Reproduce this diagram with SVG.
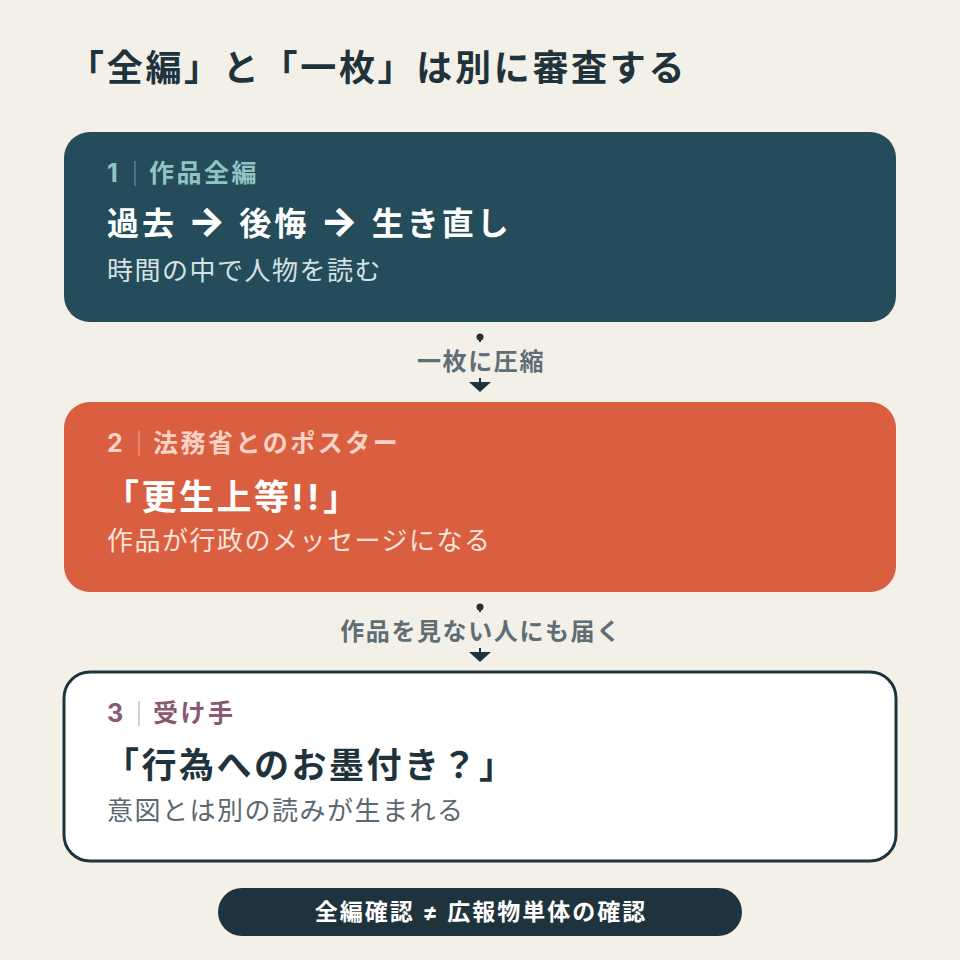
<svg xmlns="http://www.w3.org/2000/svg" width="960" height="960" viewBox="0 0 960 960">
<defs>
<style>
text{font-family:"Inter","Noto Sans CJK JP","Noto Sans",sans-serif}
.title{font-size:36px;font-weight:700;fill:#1f333d;letter-spacing:2.7px}
.lab{font-size:25px;font-weight:700;letter-spacing:2.5px}
.head1{font-size:32px;font-weight:700;letter-spacing:3px}
.arr{font-size:40px;font-weight:800}
.head{font-size:35px;font-weight:700;letter-spacing:2.5px}
.sub{font-size:26px;font-weight:400;letter-spacing:1.5px}
.conn{font-size:24px;font-weight:700;fill:#5f6d75;text-anchor:middle;letter-spacing:1.6px}
.sep{stroke-width:1.2}
</style>
<marker id="dot" viewBox="0 0 8 8" refX="4" refY="4" markerWidth="8" markerHeight="8" markerUnits="userSpaceOnUse"><circle cx="4" cy="4" r="3.5" fill="#1f333d"/></marker>
</defs>
<rect width="960" height="960" fill="#f3f0e8"/>
<text class="title" x="68" y="81">「全編」と「一枚」は別に審査する</text>

<g id="connectors">
<g id="conn1">
<line x1="480" y1="337" x2="480" y2="382" stroke="#1f333d" stroke-width="2" marker-start="url(#dot)"/>
<path d="M469,382 L491,382 L480,392 Z" fill="#1f333d"/>
<rect x="390" y="342" width="180" height="36" fill="#f3f0e8"/>
<text class="conn" x="481" y="370">一枚に圧縮</text>
</g>
<g id="conn2">
<line x1="480" y1="607" x2="480" y2="652" stroke="#1f333d" stroke-width="2" marker-start="url(#dot)"/>
<path d="M469,652 L491,652 L480,662 Z" fill="#1f333d"/>
<rect x="320" y="612" width="320" height="36" fill="#f3f0e8"/>
<text class="conn" x="481" y="640">作品を見ない人にも届く</text>
</g>
</g>

<g id="node1">
<rect x="64" y="132" width="832" height="190" rx="26" fill="#254c5a"/>
<text class="lab" x="107" y="182" fill="#8ec5c4">1</text>
<line class="sep" x1="135" y1="161" x2="135" y2="186" stroke="#8ec5c4" stroke-opacity="0.6"/>
<text class="lab" x="149" y="182" fill="#8ec5c4">作品全編</text>
<text class="head1" x="107" y="235" fill="#ffffff">過去 <tspan class="arr">→</tspan> 後悔 <tspan class="arr">→</tspan> 生き直し</text>
<text class="sub" x="107" y="280" fill="#d5e2e5">時間の中で人物を読む</text>
</g>

<g id="node2">
<rect x="64" y="402" width="832" height="190" rx="26" fill="#d95f40"/>
<text class="lab" x="107" y="452" fill="#f8d3c5">2</text>
<line class="sep" x1="139" y1="431" x2="139" y2="456" stroke="#f8d3c5" stroke-opacity="0.6"/>
<text class="lab" x="153" y="452" fill="#f8d3c5">法務省とのポスター</text>
<text class="head" x="104" y="510" fill="#ffffff">「更生上等<tspan letter-spacing="4">!!</tspan>」</text>
<text class="sub" x="107" y="550" fill="#fbe4dc">作品が行政のメッセージになる</text>
</g>

<g id="node3">
<rect x="64" y="672" width="832" height="189" rx="26" fill="#ffffff" stroke="#1f333d" stroke-width="3"/>
<text class="lab" x="107" y="722" fill="#8a5870">3</text>
<line class="sep" x1="139" y1="701" x2="139" y2="726" stroke="#8a5870" stroke-opacity="0.5"/>
<text class="lab" x="153" y="722" fill="#8a5870">受け手</text>
<text class="head" x="104" y="778" fill="#1f333d">「行為へのお墨付き？」</text>
<text class="sub" x="107" y="820" fill="#5a6870">意図とは別の読みが生まれる</text>
</g>

<g id="summary">
<rect x="218" y="888" width="524" height="48" rx="24" fill="#1f333d"/>
<text x="481" y="920" font-size="23" font-weight="700" fill="#ffffff" text-anchor="middle" letter-spacing="2">全編確認 ≠ 広報物単体の確認</text>
</g>
</svg>
